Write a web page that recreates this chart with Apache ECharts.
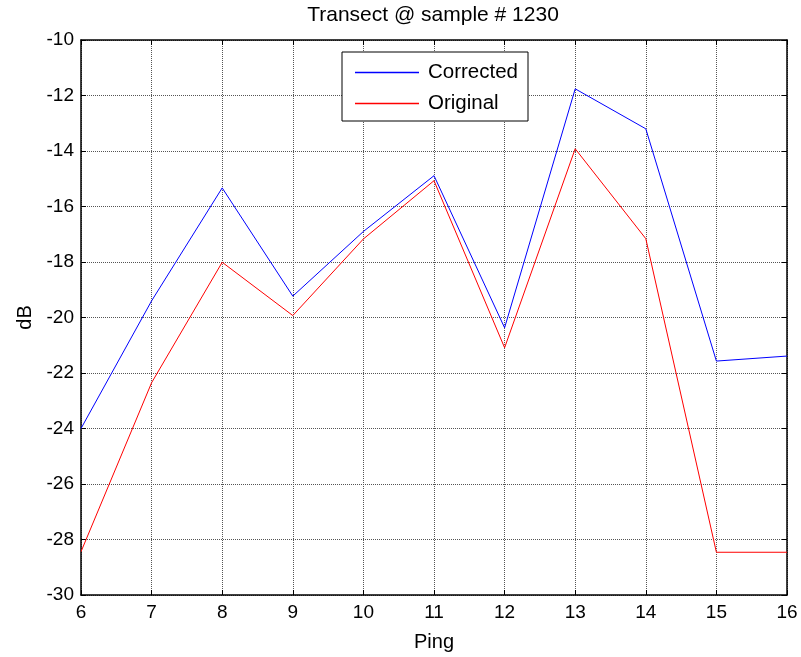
<!DOCTYPE html>
<html>
<head>
<meta charset="utf-8">
<script src="https://cdn.jsdelivr.net/npm/echarts@6/dist/echarts.min.js"></script>
<style>
  html, body { margin: 0; padding: 0; background: #fff; }
  #chart { width: 801px; height: 657px; }
</style>
</head>
<body>
<div id="chart"></div>
<script>
// Ping numbers along the transect
const pings = [6, 7, 8, 9, 10, 11, 12, 13, 14, 15, 16];
// Backscatter level (dB) at sample 1230
const corrected = [-24.0, -19.4, -15.33, -19.23, -16.9, -14.89, -20.37, -11.76, -13.2, -21.57, -21.39];
const original  = [-28.44, -22.35, -18.01, -19.93, -17.17, -15.07, -21.09, -13.92, -17.16, -28.46, -28.46];

const FONT = 'Liberation Sans, Arial, sans-serif';
const BLUE = '#0000ff';
const RED = '#ff0000';
const pairs = (ys) => pings.map((p, i) => [p, ys[i]]);

const chart = echarts.init(document.getElementById('chart'), null, { renderer: 'canvas' });

const gridLine = { show: true, lineStyle: { color: '#555', width: 1, type: [1, 1] } };
const tickIn = { show: true, inside: true, length: 5, lineStyle: { color: '#000', width: 1 } };
const frame = { show: true, lineStyle: { color: '#000', width: 1.5 } };

chart.setOption({
  animation: false,
  backgroundColor: '#fff',
  title: {
    text: 'Transect @ sample # 1230',
    left: 433,
    top: 5,
    padding: 0,
    textAlign: 'center',
    textStyle: { fontFamily: FONT, fontSize: 21, fontWeight: 'normal', color: '#000' }
  },
  legend: {
    orient: 'vertical',
    left: 342,
    top: 52,
    padding: [10, 10, 7, 13],
    backgroundColor: '#fff',
    borderColor: '#000',
    borderWidth: 1,
    borderRadius: 0,
    icon: 'rect',
    itemWidth: 64,
    itemHeight: 1.4,
    itemGap: 10,
    textStyle: { fontFamily: FONT, fontSize: 20.5, color: '#000', lineHeight: 20, padding: [0, 0, 0, 4] },
    data: [
      { name: 'Corrected', itemStyle: { color: BLUE, borderWidth: 0 } },
      { name: 'Original', itemStyle: { color: RED, borderWidth: 0 } }
    ]
  },
  grid: { left: 81, right: 14, top: 40, bottom: 61, containLabel: false },
  xAxis: [
    {
      type: 'value', min: 6, max: 16, interval: 1,
      name: 'Ping', nameLocation: 'middle', nameGap: 37,
      nameTextStyle: { fontFamily: FONT, fontSize: 20, color: '#000' },
      axisLine: frame, axisTick: tickIn, splitLine: gridLine,
      axisLabel: { fontFamily: FONT, fontSize: 19, color: '#000', margin: 8 }
    },
    {
      type: 'value', min: 6, max: 16, interval: 1, position: 'top',
      axisLine: frame, axisTick: tickIn, splitLine: { show: false },
      axisLabel: { show: false }
    }
  ],
  yAxis: [
    {
      type: 'value', min: -30, max: -10, interval: 2,
      name: 'dB', nameLocation: 'middle', nameGap: 40,
      nameTextStyle: { fontFamily: FONT, fontSize: 20, color: '#000' },
      axisLine: frame, axisTick: tickIn, splitLine: gridLine,
      axisLabel: { fontFamily: FONT, fontSize: 19, color: '#000', margin: 7 }
    },
    {
      type: 'value', min: -30, max: -10, interval: 2, position: 'right',
      axisLine: frame, axisTick: tickIn, splitLine: { show: false },
      axisLabel: { show: false }
    }
  ],
  series: [
    {
      name: 'Corrected', type: 'line', data: pairs(corrected),
      symbol: 'none', lineStyle: { color: BLUE, width: 1 }, itemStyle: { color: BLUE },
      z: 3
    },
    {
      name: 'Original', type: 'line', data: pairs(original),
      symbol: 'none', lineStyle: { color: RED, width: 1 }, itemStyle: { color: RED },
      z: 2
    }
  ]
});
</script>
</body>
</html>
